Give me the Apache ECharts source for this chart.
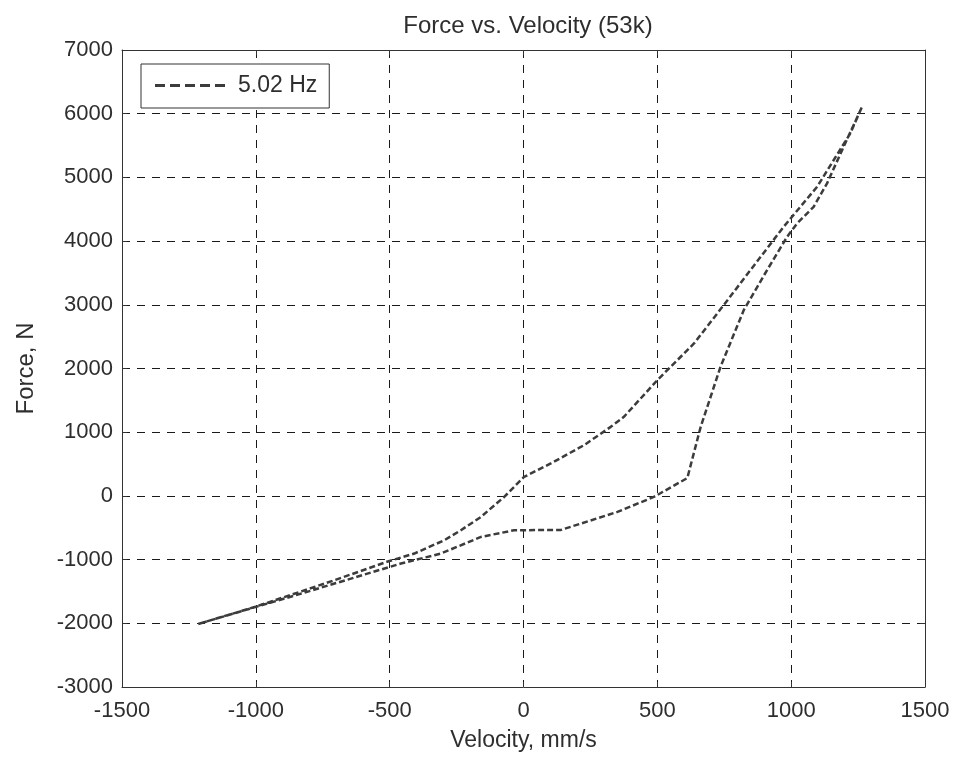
<!DOCTYPE html>
<html>
<head>
<meta charset="utf-8">
<script src="https://cdn.jsdelivr.net/npm/echarts@6/dist/echarts.min.js"></script>
<style>html,body{margin:0;padding:0;background:#fff}#c{width:959px;height:758px}</style>
</head>
<body>
<div id="c"></div>
<script>
// Upper branch (increasing velocity)
const velocityUp = [-1215, -1005, -707, -507, -408, -296, -234, -159, -72, 2, 102, 226, 326, 375, 500, 637, 724, 848, 972, 1097, 1221, 1265];
const forceUp    = [-2010, -1745, -1325, -1030, -905, -696, -539, -330, -16, 298, 509, 796, 1084, 1241, 1817, 2393, 2864, 3545, 4225, 4853, 5692, 6110];
// Lower branch (decreasing velocity)
const velocityDown = [1265, 1196, 1134, 1084, 1022, 985, 910, 823, 736, 662, 612, 487, 351, 140, -35, -159, -309, -458, -830, -1215];
const forceDown    = [6110, 5481, 4906, 4539, 4278, 4068, 3545, 2917, 2026, 1084, 280, -16, -251, -534, -539, -644, -905, -1062, -1533, -2010];
const xTicks = [-1500, -1000, -500, 0, 500, 1000, 1500];
const yTicks = [-3000, -2000, -1000, 0, 1000, 2000, 3000, 4000, 5000, 6000, 7000];
const seriesName = '5.02 Hz';
const titleText = 'Force vs. Velocity (53k)';
const xName = 'Velocity, mm/s';
const yName = 'Force, N';

const data = [];
velocityUp.forEach((v, i) => data.push([v, forceUp[i]]));
velocityDown.forEach((v, i) => data.push([v, forceDown[i]]));

const font = 'Liberation Sans, Arial, Helvetica, sans-serif';
const txt = '#2e2e2e';
const gridLine = {show: true, lineStyle: {color: '#1a1a1a', width: 1, type: [8, 7]}};
const axLine = {show: true, onZero: false, lineStyle: {color: '#333', width: 1}};
const tick = {show: true, inside: true, length: 5, lineStyle: {color: '#333'}};
const dashIcon = 'path://M0,0h10v3h-10z M15,0h10v3h-10z M30,0h10v3h-10z M45,0h10v3h-10z M60,0h10v3h-10z';

const chart = echarts.init(document.getElementById('c'), null, {renderer: 'canvas'});
chart.setOption({
  backgroundColor: '#fff',
  animation: false,
  title: {text: titleText, left: 523, top: 9, textAlign: 'center',
    textStyle: {fontFamily: font, fontSize: 24, fontWeight: 'normal', color: txt}},
  legend: {
    data: [{name: seriesName, icon: dashIcon}], left: 141, top: 64, orient: 'vertical',
    backgroundColor: '#fff', borderColor: '#333', borderWidth: 1,
    padding: [10, 12, 11, 14], itemWidth: 70, itemHeight: 3, itemGap: 0,
    itemStyle: {color: '#3c3c3c'},
    textStyle: {fontFamily: font, fontSize: 23, color: txt, padding: [0, 0, 0, 8]}
  },
  grid: {left: 122, right: 34, top: 50, bottom: 71, containLabel: false},
  xAxis: [{
    type: 'value', min: -1500, max: 1500, interval: 500, position: 'bottom',
    name: xName, nameLocation: 'middle', nameGap: 42,
    nameTextStyle: {fontFamily: font, fontSize: 23, color: txt},
    axisLine: axLine, axisTick: tick, splitLine: gridLine,
    axisLabel: {fontFamily: font, fontSize: 22, color: txt, margin: 13,
      formatter: v => xTicks.includes(v) ? String(v) : ''}
  }, {
    type: 'value', min: -1500, max: 1500, interval: 500, position: 'top',
    axisLine: axLine, axisTick: tick, splitLine: {show: false}, axisLabel: {show: false}
  }],
  yAxis: [{
    type: 'value', min: -3000, max: 7000, interval: 1000, position: 'left',
    name: yName, nameLocation: 'middle', nameGap: 84, nameRotate: 90,
    nameTextStyle: {fontFamily: font, fontSize: 24, color: txt},
    axisLine: axLine, axisTick: tick, splitLine: gridLine,
    axisLabel: {fontFamily: font, fontSize: 22, color: txt, margin: 9,
      formatter: v => yTicks.includes(v) ? String(v) : ''}
  }, {
    type: 'value', min: -3000, max: 7000, interval: 1000, position: 'right',
    axisLine: axLine, axisTick: tick, splitLine: {show: false}, axisLabel: {show: false}
  }],
  series: [{
    name: seriesName, type: 'line', xAxisIndex: 0, yAxisIndex: 0,
    data: data, showSymbol: false, symbol: 'none',
    lineStyle: {color: '#3c3c3c', width: 2.5, type: [6, 3]},
    itemStyle: {color: '#3c3c3c'}
  }]
});
</script>
</body>
</html>
